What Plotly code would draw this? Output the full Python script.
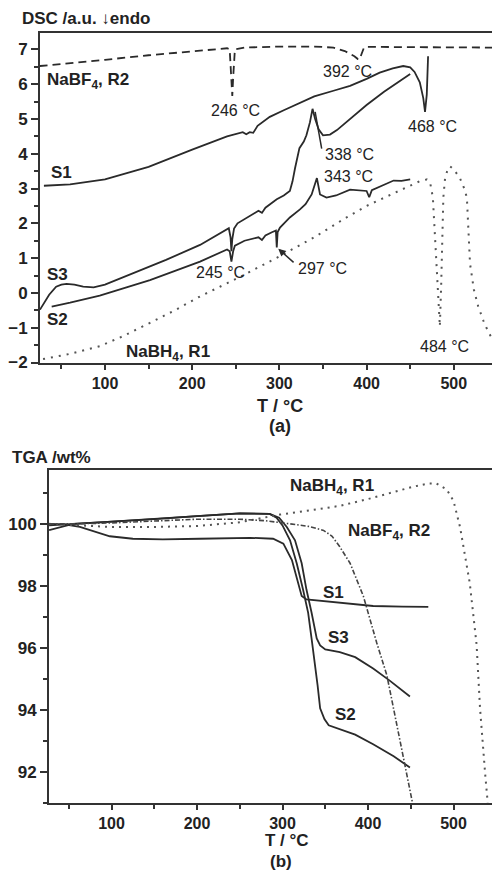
import plotly.graph_objects as go

# ---------------- (a) DSC data ----------------
dsc_s1_x = [30, 60, 100, 150, 200, 240, 258, 262, 266, 270, 275, 289, 305, 320, 340, 362, 381, 400, 415, 430, 442, 450, 455, 461, 465, 467, 469, 470.5]
dsc_s1_y = [3.08, 3.12, 3.26, 3.62, 4.12, 4.50, 4.62, 4.56, 4.62, 4.60, 4.80, 5.06, 5.25, 5.43, 5.65, 5.81, 5.95, 6.15, 6.33, 6.45, 6.52, 6.48, 6.35, 6.05, 5.6, 5.2, 5.7, 6.8]

dsc_s3_x = [25.5, 30, 36, 44, 50, 56, 65, 75, 87, 100, 132, 170, 209, 235, 242, 244, 245, 246, 248, 252, 265, 276, 280, 284, 297, 305, 312, 315, 318, 323, 328, 331, 335, 338, 341, 345, 350, 358, 366, 381, 400, 420, 450]
dsc_s3_y = [-0.48, -0.3, -0.05, 0.18, 0.24, 0.26, 0.24, 0.18, 0.16, 0.24, 0.56, 0.95, 1.38, 1.75, 1.86, 1.6, 1.2, 1.55, 1.85, 2.0, 2.2, 2.36, 2.3, 2.45, 2.69, 2.8, 2.93, 3.2, 3.59, 4.16, 4.35, 4.53, 4.9, 5.29, 5.0, 4.7, 4.53, 4.55, 4.68, 5.0, 5.4, 5.78, 6.29]

dsc_s2_x = [38.9, 60, 94, 151.6, 209, 235, 240, 243, 245, 247, 249, 260, 270, 276, 280, 284, 292, 296, 297, 298, 300.7, 312, 323.6, 330, 337, 340, 343, 346.6, 354, 365, 381, 400, 403, 406, 420, 431, 440, 450]
dsc_s2_y = [-0.39, -0.28, -0.08, 0.37, 0.9, 1.18, 1.25, 1.2, 0.9, 1.2, 1.36, 1.5, 1.55, 1.6, 1.52, 1.65, 1.75, 1.79, 1.31, 1.75, 1.88, 2.17, 2.4, 2.55, 2.83, 3.05, 3.3, 2.83, 2.74, 2.8, 2.97, 2.93, 2.75, 2.95, 3.1, 3.23, 3.22, 3.26]

dsc_r1_x = [29, 60, 94, 120, 151.6, 180, 209, 254.8, 300, 340, 377, 400, 430, 461, 469, 473, 476, 478, 480, 482, 484, 485.5, 487, 488, 490, 493, 495.6, 500, 507, 512, 515, 518.6, 523, 528, 534, 540, 544]
dsc_r1_y = [-1.9, -1.75, -1.53, -1.25, -0.86, -0.5, -0.1, 0.46, 1.05, 1.6, 2.17, 2.5, 2.85, 3.21, 3.26, 3.15, 2.74, 1.8, 0.8, -0.1, -0.96, 0.2, 1.5, 2.74, 3.3, 3.55, 3.64, 3.55, 3.3, 3.0, 2.74, 0.84, 0.1, -0.39, -0.8, -1.15, -1.3]

dsc_r2_x = [25, 60, 100, 150, 200, 240, 243, 245, 246, 247, 249, 260, 300, 340, 362, 375, 386, 390, 392, 394, 397, 400, 450, 500, 545]
dsc_r2_y = [6.52, 6.6, 6.7, 6.83, 6.95, 7.03, 7.0, 6.2, 5.66, 6.2, 7.0, 7.05, 7.08, 7.08, 7.05, 6.95, 6.8, 6.72, 6.71, 6.85, 7.05, 7.07, 7.07, 7.06, 7.05]

# ---------------- (b) TGA data ----------------
tga_s1_x = [27, 45, 63, 80, 98, 125, 160, 203, 240, 262, 289, 301, 311, 318.5, 322.4, 328, 348, 380, 406, 440, 470.5]
tga_s1_y = [100.0, 99.98, 99.9, 99.75, 99.6, 99.52, 99.5, 99.52, 99.55, 99.55, 99.52, 99.36, 98.83, 98.09, 97.67, 97.56, 97.5, 97.42, 97.35, 97.33, 97.32]

tga_s2_x = [27, 40, 55, 100, 150, 200, 250, 285, 293, 300, 308.8, 316.6, 324, 330, 334, 338, 341, 344, 349, 354, 367, 385, 406, 430, 449]
tga_s2_y = [99.8, 99.9, 100.0, 100.07, 100.15, 100.25, 100.34, 100.32, 100.2, 99.95, 99.47, 98.73, 97.88, 97.13, 96.3, 95.5, 94.8, 94.05, 93.7, 93.5, 93.37, 93.2, 92.89, 92.5, 92.14]

tga_s3_x = [27, 40, 55, 100, 150, 200, 250, 285, 296, 305, 314.6, 322.4, 328, 334, 340, 344, 350, 367, 385, 406, 425, 449]
tga_s3_y = [99.95, 99.97, 100.0, 100.07, 100.15, 100.25, 100.34, 100.32, 100.2, 99.9, 99.47, 98.73, 97.88, 97.13, 96.3, 96.08, 95.95, 95.86, 95.7, 95.33, 94.95, 94.43]

tga_r1_x = [27, 60, 100, 150, 200, 250, 297, 328, 367, 400, 425.7, 453, 470, 480, 492, 500, 507.6, 513, 519, 527, 531, 537, 540]
tga_r1_y = [100.0, 99.95, 99.9, 99.9, 99.93, 100.05, 100.3, 100.42, 100.58, 100.8, 101.0, 101.2, 101.3, 101.3, 101.11, 100.74, 99.9, 99.0, 98.09, 96.1, 94.05, 91.93, 91.0]

tga_r2_x = [27, 60, 100, 150, 200, 250, 280, 309, 330, 348, 358, 367, 379, 394.5, 410, 422, 433.5, 445, 452]
tga_r2_y = [100.0, 100.0, 100.03, 100.1, 100.15, 100.15, 100.1, 100.0, 99.92, 99.79, 99.6, 99.26, 98.73, 97.67, 96.18, 95.12, 93.53, 92.0, 91.0]

DARK = "#2a2a2a"
FONT = "Liberation Sans, Arial, sans-serif"

fig = go.Figure()

def add(x, y, dash, xa, ya, width=1.8, color=DARK):
    fig.add_trace(go.Scatter(x=x, y=y, mode="lines", xaxis=xa, yaxis=ya,
                             line=dict(color=color, width=width, dash=dash),
                             showlegend=False, hoverinfo="skip"))

add(dsc_r2_x, dsc_r2_y, "8px,5px", "x", "y")
add(dsc_s1_x, dsc_s1_y, "solid", "x", "y")
add(dsc_s3_x, dsc_s3_y, "solid", "x", "y")
add(dsc_s2_x, dsc_s2_y, "solid", "x", "y")
add(dsc_r1_x, dsc_r1_y, "2px,6px", "x", "y", width=2, color="#555")

add(tga_s1_x, tga_s1_y, "solid", "x2", "y2")
add(tga_s2_x, tga_s2_y, "solid", "x2", "y2")
add(tga_s3_x, tga_s3_y, "solid", "x2", "y2")
add(tga_r1_x, tga_r1_y, "2px,5px", "x2", "y2", width=2, color="#555")
add(tga_r2_x, tga_r2_y, "5px,2px,1.5px,2px", "x2", "y2", width=1.6, color="#444")

W, H = 492, 882

def xaxis(dom, rng, anchor):
    return dict(domain=dom, range=rng, anchor=anchor, showgrid=False, zeroline=False,
                showline=True, linecolor="#333", linewidth=2, mirror=True,
                ticks="outside", ticklen=5, tickwidth=1.5, tickcolor="#333",
                dtick=100, tick0=0,
                minor=dict(ticks="outside", ticklen=4, dtick=50, tick0=0, tickcolor="#333", tickwidth=1.5),
                tickfont=dict(family=FONT, size=16, color="#222", weight="bold"))

def yaxis(dom, rng, anchor, dtick, mdtick):
    return dict(domain=dom, range=rng, anchor=anchor, showgrid=False, zeroline=False,
                showline=True, linecolor="#333", linewidth=2, mirror=False,
                ticks="outside", ticklen=7, tickwidth=1.5, tickcolor="#333",
                dtick=dtick, tick0=0,
                minor=dict(ticks="outside", ticklen=4, dtick=mdtick, tick0=0, tickcolor="#333", tickwidth=1.5),
                tickfont=dict(family=FONT, size=17, color="#222", weight="bold"))

fig.update_layout(
    width=W, height=H, margin=dict(l=0, r=0, t=0, b=0),
    paper_bgcolor="white", plot_bgcolor="white",
    xaxis=xaxis([40 / W, 1.0], [25.5, 543.8], "y"),
    yaxis=yaxis([1 - 366.7 / H, 1 - 33 / H], [-2, 7.48], "x", 1, 0.5),
    xaxis2=xaxis([49 / W, 1.0], [26.9, 545], "y2"),
    yaxis2=yaxis([1 - 812 / H, 1 - 475 / H], [91, 101.75], "x2", 2, 1),
)

ann = []
def lab(x, y, text, xr="x", yr="y", bold=True, size=17, xanchor="center"):
    ann.append(dict(x=x, y=y, xref=xr, yref=yr, text=text, showarrow=False, xanchor=xanchor,
                    font=dict(family=FONT, size=size, color="#222", weight="bold" if bold else "normal")))

# DSC labels
lab(31, 6.09, "NaBF<sub>4</sub>, R2", xanchor="left")
lab(50, 3.45, "S1")
lab(46, 0.52, "S3")
lab(46, -0.76, "S2")
lab(172, -1.72, "NaBH<sub>4</sub>, R1")
lab(250, 5.24, "246 °C", bold=False, size=16)
lab(378, 6.37, "392 °C", bold=False, size=16)
lab(476, 4.78, "468 °C", bold=False, size=16)
lab(380, 3.99, "338 °C", bold=False, size=16)
lab(379, 3.36, "343 °C", bold=False, size=16)
lab(232, 0.58, "245 °C", bold=False, size=16)
lab(349, 0.7, "297 °C", bold=False, size=16)
lab(489, -1.53, "484 °C", bold=False, size=16)

# pointer lines
fig.add_shape(type="line", xref="x", yref="y", x0=341, y0=5.2, x1=348.5, y1=4.15,
              line=dict(color=DARK, width=1.5))
ann.append(dict(x=298.7, y=1.27, ax=318, ay=0.84, xref="x", yref="y", axref="x", ayref="y",
                showarrow=True, arrowhead=2, arrowsize=1, arrowwidth=1.5, arrowcolor=DARK, text=""))

# TGA labels
lab(358, 101.18, "NaBH<sub>4</sub>, R1", "x2", "y2")
lab(424.5, 99.75, "NaBF<sub>4</sub>, R2", "x2", "y2")
lab(360, 97.77, "S1", "x2", "y2")
lab(366, 96.34, "S3", "x2", "y2")
lab(374, 93.85, "S2", "x2", "y2")

def ptext(xpx, ypx, text, xanchor="center", size=18):
    ann.append(dict(x=xpx / W, y=1 - ypx / H, xref="paper", yref="paper", text=text, showarrow=False,
                    xanchor=xanchor, yanchor="middle",
                    font=dict(family=FONT, size=size, color="#222", weight="bold")))

ptext(20, 19, "DSC /a.u. ↓endo", xanchor="left", size=17)
ptext(280, 411, "T / °C")
ptext(280, 431, "(a)")
ptext(10, 463, "TGA /wt%", xanchor="left", size=17)
ptext(287, 850, "T / °C", size=17)
ptext(281, 871, "(b)", size=17)

fig.update_layout(annotations=ann)
fig.write_html("out.html")
